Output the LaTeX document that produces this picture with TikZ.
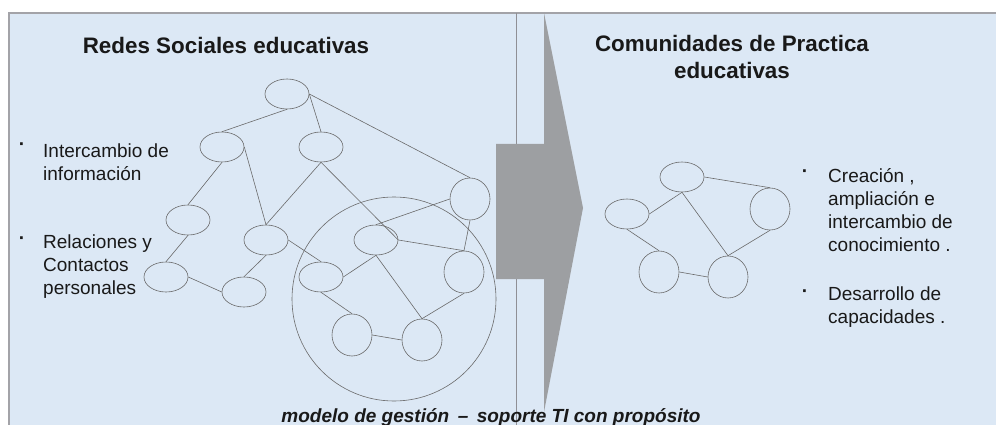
\documentclass[tikz,border=0pt]{standalone}
\usepackage{fontspec}
\setmainfont{Liberation Sans}
\usetikzlibrary{shapes,positioning}
\definecolor{panel}{HTML}{DCE8F5}
\definecolor{frameline}{HTML}{A3A3A8}
\definecolor{arrowfill}{HTML}{9D9FA2}
\definecolor{linkline}{HTML}{6A6A6A}
\definecolor{divline}{HTML}{8F8F95}

\begin{document}
\begin{tikzpicture}[x=1pt,y=-1pt,
        oval/.style={ellipse,draw=linkline,line width=0.6pt,minimum width=44pt,minimum height=30pt,inner sep=0pt},
        tall/.style={ellipse,draw=linkline,line width=0.6pt,minimum width=40pt,minimum height=42pt,inner sep=0pt},
        link/.style={draw=linkline,line width=0.6pt},
        txt/.style={align=left,anchor=base west,inner sep=0pt,text=black!90,font=\fontsize{19}{23}\selectfont},
        dot/.style={anchor=base,inner sep=0pt,text=black!90,font=\fontsize{19}{23}\selectfont\bfseries},
        title/.style={align=center,anchor=base,inner sep=0pt,text=black!90,font=\fontsize{22.4}{27}\selectfont\bfseries}]
        \useasboundingbox (0,0) rectangle (996,425);
        \fill[white] (0,0) rectangle (996,425);
        \fill[panel] (8,13) rectangle (996,425);
        \draw[frameline,line width=2pt] (8.5,425) -- (8.5,13.5) -- (996,13.5);
        \draw[divline,line width=1pt] (516,13) -- (516,425);
        % big circle round the core of the network
        \node[circle,draw=linkline,line width=0.6pt,minimum size=204pt,inner sep=0pt] (core) at (394,299) {};
        % transition arrow
        \fill[arrowfill] (496,144) -- (544,144) -- (544,13) -- (583,208) -- (544,412) -- (544,279) -- (496,279) -- cycle;

        % titles
        \node[title] (redes) at (226,54) {Redes Sociales educativas};
        \node[title] (comunidades) at (732,79) {Comunidades de Practica\\educativas};

        % left network
        \node[oval] (top) at (287,94) {};
        \node[oval] (a) at (222,147) {};
        \node[oval] (b) at (321,147) {};
        \node[oval] (c) at (188,220) {};
        \node[oval] (d) at (266,240) {};
        \node[oval] (e) at (166,277) {};
        \node[oval] (f) at (244,292) {};
        \node[tall] (g) at (470,199) {};
        \node[oval] (h) at (376,240) {};
        \node[oval] (i) at (321,277) {};
        \node[tall] (j) at (464,272) {};
        \node[tall] (k) at (352,335) {};
        \node[tall] (l) at (422,340) {};
        \draw[link] (top.south) -- (a.north);
        \draw[link] (top.east) -- (b.north);
        \draw[link] (top.east) -- (g.north);
        \draw[link] (a.south) -- (c.north);
        \draw[link] (a.east) -- (d.north);
        \draw[link] (b.south) -- (d.north);
        \draw[link] (b.south) -- (h.east);
        \draw[link] (c.south) -- (e.north);
        \draw[link] (d.south) -- (f.north);
        \draw[link] (d.east) -- (i.north);
        \draw[link] (e.east) -- (f.west);
        \draw[link] (g.west) -- (h.north);
        \draw[link] (g.south) -- (j.north);
        \draw[link] (h.east) -- (j.north);
        \draw[link] (h.south) -- (i.east);
        \draw[link] (h.south) -- (l.north);
        \draw[link] (i.south) -- (k.north);
        \draw[link] (k.east) -- (l.west);
        \draw[link] (j.south) -- (l.north);

        % right network
        \node[oval] (p) at (682,177) {};
        \node[oval] (q) at (627,214) {};
        \node[tall] (r) at (770,209) {};
        \node[tall] (s) at (659,272) {};
        \node[tall] (t) at (728,277) {};
        \draw[link] (p.east) -- (r.north);
        \draw[link] (p.south) -- (q.east);
        \draw[link] (p.south) -- (t.north);
        \draw[link] (q.south) -- (s.north);
        \draw[link] (s.east) -- (t.west);
        \draw[link] (t.north) -- (r.south);

        % bullet texts
        \node[dot] (dot1) at (22,151) {·};
        \node[txt] (info) at (43,180) {Intercambio de\\información};
        \node[dot] (dot2) at (22,244) {·};
        \node[txt] (rel) at (43,294) {Relaciones y\\Contactos\\personales};
        \node[dot] (dot3) at (805,178) {·};
        \node[txt] (crea) at (828,251) {Creación ,\\ampliación e\\intercambio de\\conocimiento .};
        \node[dot] (dot4) at (805,297) {·};
        \node[txt] (desa) at (828,323) {Desarrollo de\\capacidades .};

        \node[anchor=base,inner sep=0pt,text=black!90,font=\fontsize{19}{23}\selectfont\bfseries\itshape] (modelo) at (491,422) {modelo de gestión \,–\, soporte TI con propósito};
\end{tikzpicture}
\end{document}
